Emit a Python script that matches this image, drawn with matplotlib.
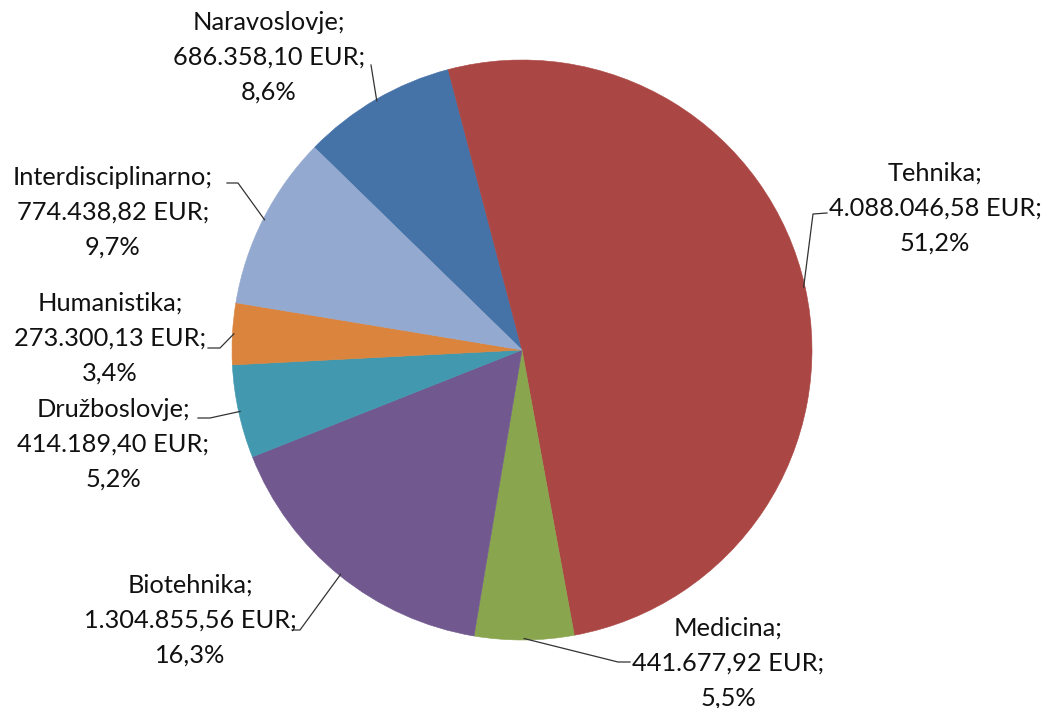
import numpy as np
import matplotlib
matplotlib.use('Agg')
import matplotlib.pyplot as plt

# ── data ─────────────────────────────────────────────────────────────
names = ['Naravoslovje', 'Tehnika', 'Medicina', 'Biotehnika',
         'Družboslovje', 'Humanistika', 'Interdisciplinarno']
values = [686358.10, 4088046.58, 441677.92, 1304855.56,
          414189.40, 273300.13, 774438.82]
colors = ['#4572A7', '#AA4643', '#89A54E', '#71588F',
          '#4198AF', '#DB843D', '#93A9CF']

# ── layout (pixels in a 1045x708 canvas) ────────────────────────────
W, H = 1045, 708
cx, cy, r = 522, 350, 290
label_xy = [(269, 57), (935, 208), (728, 663), (190, 620),
            (113, 444), (110, 338), (113, 212)]
# leader line points on the label side (label end -> elbow)
leader_pts = [
    [(371, 65)],
    [(827, 213), (813, 214)],
    [(630, 662), (618, 662)],
    [(292, 630), (300, 630)],
    [(198, 418), (210, 418)],
    [(208, 348), (220, 348)],
    [(227, 183), (238, 183)],
]


def fmt_eur(v):
    s = f'{v:,.2f}'
    return s.replace(',', 'X').replace('.', ',').replace('X', '.')


def px2data(px, py):
    return (px - cx) / r, (cy - py) / r


plt.rcParams['font.family'] = ['Lato', 'DejaVu Sans']

fig = plt.figure(figsize=(W / 100, H / 100), dpi=100, facecolor='white')
ax = fig.add_axes([(cx - r) / W, (H - cy - r) / H, 2 * r / W, 2 * r / H])

wedges, _ = ax.pie(values, colors=colors, startangle=135.7, counterclock=False,
                   radius=1, center=(0, 0), wedgeprops=dict(linewidth=0.4))
for w in wedges:
    w.set_edgecolor(w.get_facecolor())
ax.set_xlim(-1, 1)
ax.set_ylim(-1, 1)
ax.axis('off')

total = sum(values)
for i, (name, val, w) in enumerate(zip(names, values, wedges)):
    pct = f'{val / total * 100:.1f}'.replace('.', ',')
    txt = f'{name};\n{fmt_eur(val)} EUR;\n{pct}%'
    lx, ly = label_xy[i]
    fig.text(lx / W, 1 - ly / H, txt, ha='center', va='center',
             fontsize=18.3, color='#111111', linespacing=1.62)

    # leader line: label side -> mid-angle on wedge edge
    mid = np.deg2rad((w.theta1 + w.theta2) / 2)
    ex, ey = np.cos(mid) * 0.995, np.sin(mid) * 0.995
    pts = [px2data(px, py) for px, py in leader_pts[i]] + [(ex, ey)]
    xs, ys = zip(*pts)
    ax.plot(xs, ys, color='#333333', linewidth=0.9, clip_on=False)

plt.savefig('out.png', dpi=100, facecolor='white')
plt.close()
